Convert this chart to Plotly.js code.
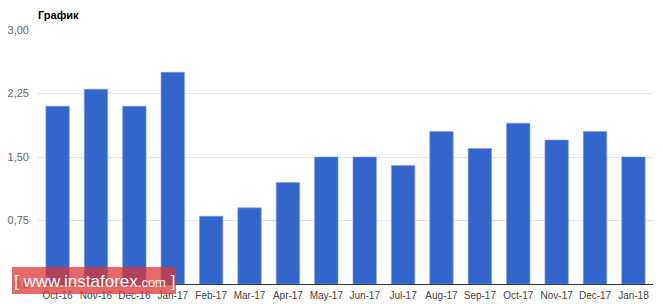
<!DOCTYPE html>
<html><head><meta charset="utf-8">
<script src="https://cdn.plot.ly/plotly-3.0.1.min.js"></script>
<style>html,body{margin:0;padding:0;background:#fff;}#chart{width:663px;height:304px;}</style>
</head><body><div id="chart"></div>
<script>
const categories = ["Oct-16","Nov-16","Dec-16","Jan-17","Feb-17","Mar-17","Apr-17","May-17","Jun-17","Jul-17","Aug-17","Sep-17","Oct-17","Nov-17","Dec-17","Jan-18"];
const values = [2.10,2.30,2.10,2.50,0.80,0.90,1.20,1.50,1.50,1.40,1.80,1.60,1.90,1.70,1.80,1.50];
const yTicks = [0,0.75,1.5,2.25,3];
const yTickLabels = ["0,0","0,75","1,50","2,25","3,00"];

const trace = {
  type: 'bar',
  x: categories.map((c,i)=>i),
  y: values,
  width: 0.61,
  marker: {color: '#3366cc', line: {color: '#7f9ce0', width: 0.6}},
  hoverinfo: 'none'
};
const L = 38, R = 653, T = 30, B = 284;
const W = R - L, H = B - T;
const layout = {
  width: 663, height: 304,
  margin: {l: L, r: 663 - R, t: T, b: 304 - B},
  paper_bgcolor: '#fff', plot_bgcolor: '#fff',
  showlegend: false,
  font: {family: 'Arial, "Liberation Sans", sans-serif', size: 10, color: '#444'},
  title: {text: '<b>График</b>', x: 38/663, xanchor: 'left', y: 1 - 15/304, yanchor: 'middle',
          font: {size: 11, color: '#000', family: 'Arial, "Liberation Sans", sans-serif'}},
  xaxis: {
    range: [-0.51, 15.51],
    tickmode: 'array', tickvals: categories.map((c,i)=>i), ticktext: categories,
    showgrid: false, zeroline: false, showline: true, linecolor: '#333', linewidth: 1,
    ticks: '', tickfont: {size: 10, color: '#444'}, ticklabelstandoff: 2
  },
  yaxis: {
    range: [0, 3], tickmode: 'array', tickvals: yTicks, ticktext: yTickLabels,
    showgrid: true, gridcolor: '#e4e4e4', gridwidth: 1, zeroline: false,
    ticks: '', tickfont: {size: 11, color: '#666'}, ticklabelstandoff: 8
  },
  shapes: [
    {type: 'rect', xref: 'paper', yref: 'paper', x0: (12-L)/W, x1: (176-L)/W,
     y0: (B-294)/H, y1: (B-267)/H, fillcolor: 'rgba(220,55,55,0.75)', line: {width: 0}, layer: 'above'}
  ],
  annotations: [
    {xref: 'paper', yref: 'paper', x: (94-L)/W, y: (B-281)/H, xanchor: 'center', yanchor: 'middle',
     text: '[ www.instaforex<span style="font-size:13px">.com</span> ]', showarrow: false,
     font: {size: 17, color: '#fff', family: 'Arial, "Liberation Sans", sans-serif'}}
  ]
};
Plotly.newPlot('chart', [trace], layout, {displayModeBar: false, staticPlot: true});
</script></body></html>
